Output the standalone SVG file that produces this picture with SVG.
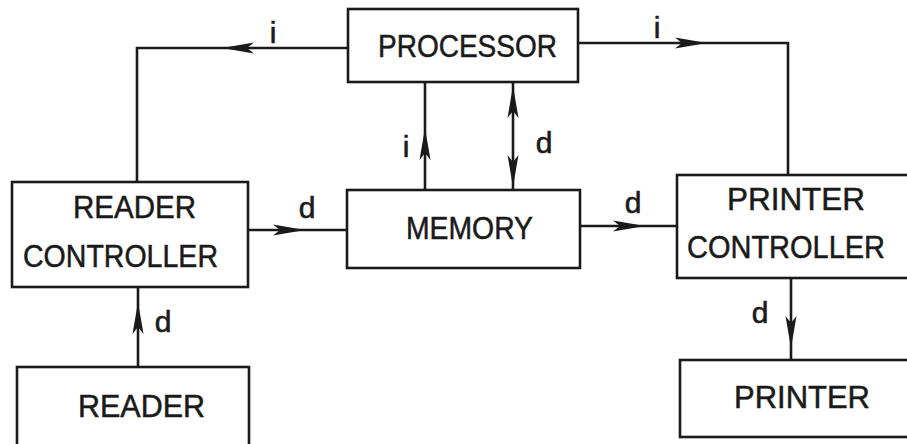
<svg xmlns="http://www.w3.org/2000/svg" xmlns:xlink="http://www.w3.org/1999/xlink" width="907" height="444" viewBox="0 0 907 444">
<style>
.box{fill:#fff;stroke:#1a1a1a;stroke-width:2.6}
.ln{fill:none;stroke:#1a1a1a;stroke-width:2.6}
.t{font-family:"Liberation Sans Narrow","Liberation Sans",Arial,sans-serif;font-size:31px;fill:#1a1a1a;stroke:#1a1a1a;stroke-width:0.5}
.lb{font-family:"Liberation Sans",Arial,sans-serif;font-size:30px;fill:#1a1a1a;stroke:#1a1a1a;stroke-width:0.6}
.ah{fill:#1a1a1a}
</style>
<defs>
<path id="ah" d="M0,0 L-32,-5.5 L-25,0 L-32,5.5 Z"/>
</defs>
<rect width="907" height="444" fill="#fff"/>
<g id="connectors">
<path class="ln" d="M348,48 L137,48 L137,182"/>
<path class="ln" d="M578,43 L788,43 L788,175"/>
<path class="ln" d="M425,191 L425,82"/>
<path class="ln" d="M513,82 L513,191"/>
<path class="ln" d="M248,230 L347,230"/>
<path class="ln" d="M580,226 L677,226"/>
<path class="ln" d="M138,367 L138,287"/>
<path class="ln" d="M791,278 L791,360"/>
<use class="ah" xlink:href="#ah" transform="translate(222,48) rotate(180)"/>
<use class="ah" xlink:href="#ah" transform="translate(707,43)"/>
<use class="ah" xlink:href="#ah" transform="translate(425,128) rotate(-90)"/>
<use class="ah" xlink:href="#ah" transform="translate(513,86) rotate(-90)"/>
<use class="ah" xlink:href="#ah" transform="translate(513,187) rotate(90)"/>
<use class="ah" xlink:href="#ah" transform="translate(305,230)"/>
<use class="ah" xlink:href="#ah" transform="translate(645,226)"/>
<use class="ah" xlink:href="#ah" transform="translate(138,302) rotate(-90)"/>
<use class="ah" xlink:href="#ah" transform="translate(791,348) rotate(90)"/>
<text class="lb" x="273" y="43" text-anchor="middle">i</text>
<text class="lb" x="657" y="38" text-anchor="middle">i</text>
<text class="lb" x="406" y="157" text-anchor="middle">i</text>
<text class="lb" x="544" y="153" text-anchor="middle">d</text>
<text class="lb" x="307" y="218" text-anchor="middle">d</text>
<text class="lb" x="633" y="213" text-anchor="middle">d</text>
<text class="lb" x="163" y="332" text-anchor="middle">d</text>
<text class="lb" x="760" y="323" text-anchor="middle">d</text>
</g>
<g id="processor">
<rect class="box" x="348" y="9" width="230" height="73"/>
<text class="t" x="378" y="57" textLength="179" lengthAdjust="spacingAndGlyphs">PROCESSOR</text>
</g>
<g id="memory">
<rect class="box" x="347" y="190" width="233" height="78"/>
<text class="t" x="406" y="239" textLength="127" lengthAdjust="spacingAndGlyphs">MEMORY</text>
</g>
<g id="reader-controller">
<rect class="box" x="12" y="182" width="236" height="105"/>
<text class="t" x="73" y="218" textLength="123" lengthAdjust="spacingAndGlyphs">READER</text>
<text class="t" x="23" y="267" textLength="195" lengthAdjust="spacingAndGlyphs">CONTROLLER</text>
</g>
<g id="reader">
<rect class="box" x="17" y="367" width="232" height="100"/>
<text class="t" x="78" y="417" textLength="127" lengthAdjust="spacingAndGlyphs">READER</text>
</g>
<g id="printer-controller">
<rect class="box" x="677" y="175" width="250" height="103"/>
<text class="t" x="727" y="210" textLength="138" lengthAdjust="spacingAndGlyphs">PRINTER</text>
<text class="t" x="687" y="258" textLength="198" lengthAdjust="spacingAndGlyphs">CONTROLLER</text>
</g>
<g id="printer">
<rect class="box" x="680" y="360" width="250" height="77"/>
<text class="t" x="734" y="408" textLength="136" lengthAdjust="spacingAndGlyphs">PRINTER</text>
</g>
</svg>
